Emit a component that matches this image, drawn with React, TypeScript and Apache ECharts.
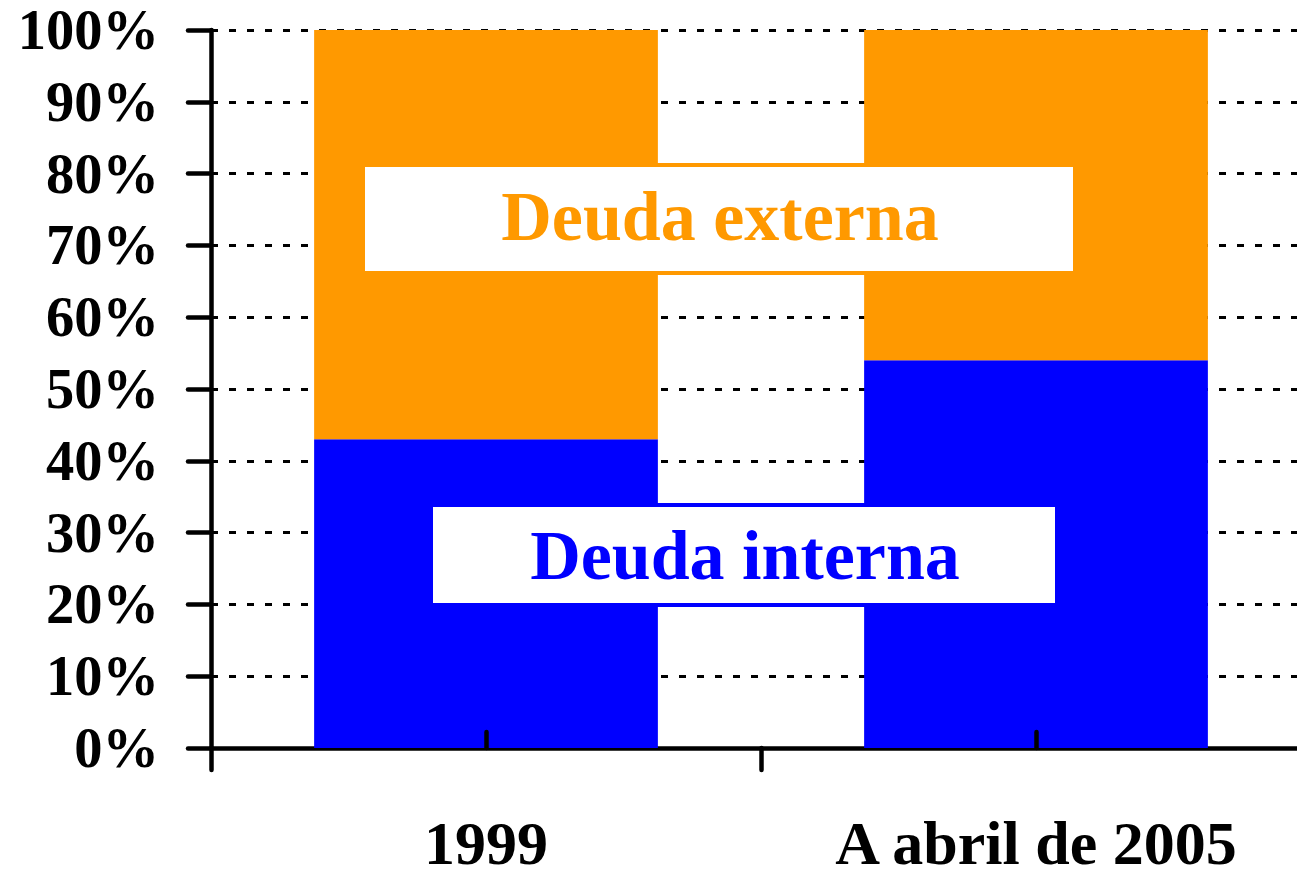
import React, { useEffect, useRef } from "react";
import * as echarts from "echarts";

const categories = ["1999", "A abril de 2005"];
const deudaInterna = [43, 54];
const deudaExterna = [57, 46];
const yTicks = [0, 10, 20, 30, 40, 50, 60, 70, 80, 90, 100];

const FONT = '"Liberation Serif", "Times New Roman", serif';

export default function App() {
  const ref = useRef<HTMLDivElement>(null);
  useEffect(() => {
    if (!ref.current) return;
    const chart = echarts.init(ref.current, undefined, { renderer: "svg" });
    const axisColor = "#000";
    chart.setOption({
      animation: false,
      backgroundColor: "#fff",
      grid: {
        left: 211,
        top: 30,
        right: -14,
        bottom: 131,
        containLabel: false,
        outerBoundsMode: "none",
      },
      xAxis: [
        {
          type: "category",
          data: categories,
          position: "bottom",
          axisLine: { show: true, lineStyle: { color: axisColor, width: 4.5, cap: "round" } },
          axisTick: {
            show: true,
            alignWithLabel: false,
            length: 22,
            lineStyle: { color: axisColor, width: 4.5, cap: "round" },
          },
          axisLabel: {
            margin: 70,
            color: "#000",
            fontFamily: FONT,
            fontWeight: "bold",
            fontSize: 62,
            lineHeight: 50,
            interval: 0,
          },
          splitLine: { show: false },
        },
        {
          type: "category",
          data: categories,
          position: "bottom",
          z: 10,
          axisLine: { show: false },
          axisTick: {
            show: true,
            inside: true,
            alignWithLabel: true,
            length: 16,
            lineStyle: { color: axisColor, width: 4.5, cap: "round" },
          },
          axisLabel: { show: false },
          splitLine: { show: false },
        },
      ],
      yAxis: {
        type: "value",
        min: yTicks[0],
        max: yTicks[yTicks.length - 1],
        interval: 10,
        axisLine: { show: true, lineStyle: { color: axisColor, width: 4.5, cap: "round" } },
        axisTick: { show: true, length: 23, lineStyle: { color: axisColor, width: 4.5, cap: "round" } },
        axisLabel: {
          formatter: "{value}%",
          margin: 52,
          color: "#000",
          fontFamily: FONT,
          fontWeight: "bold",
          fontSize: 56.5,
          lineHeight: 48,
        },
        splitLine: {
          show: true,
          lineStyle: { color: "#000", width: 3, type: [7, 11] },
        },
      },
      series: [
        {
          name: "Deuda interna",
          type: "bar",
          stack: "total",
          data: deudaInterna,
          barWidth: "62.5%",
          itemStyle: { color: "#0000FF" },
        },
        {
          name: "Deuda externa",
          type: "bar",
          stack: "total",
          data: deudaExterna,
          barWidth: "62.5%",
          itemStyle: { color: "#FF9900" },
        },
      ],
      graphic: [
        {
          type: "rect",
          z: 100,
          shape: { x: 363, y: 165, width: 712, height: 108 },
          style: { fill: "#fff", stroke: "#FF9900", lineWidth: 4 },
        },
        {
          type: "text",
          z: 101,
          x: 720,
          y: 216,
          style: {
            text: "Deuda externa",
            fill: "#FF9900",
            font: `bold 70px ${FONT}`,
            align: "center",
            verticalAlign: "middle",
          },
        },
        {
          type: "rect",
          z: 100,
          shape: { x: 431, y: 505, width: 626, height: 100 },
          style: { fill: "#fff", stroke: "#0000FF", lineWidth: 4 },
        },
        {
          type: "text",
          z: 101,
          x: 745,
          y: 555,
          style: {
            text: "Deuda interna",
            fill: "#0000FF",
            font: `bold 70px ${FONT}`,
            align: "center",
            verticalAlign: "middle",
          },
        },
      ],
    });
    return () => chart.dispose();
  }, []);
  return (
    <div
      ref={ref}
      style={{ position: "absolute", left: 0, top: 0, width: 1297, height: 879 }}
    />
  );
}
